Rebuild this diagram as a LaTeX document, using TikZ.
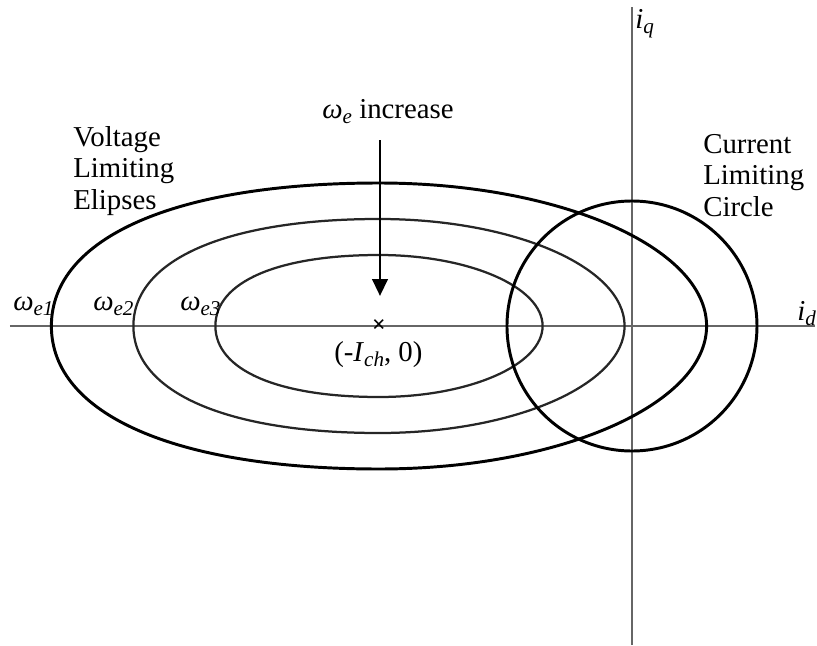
\documentclass[tikz,border=0pt]{standalone}
\usepackage{fontspec}
\setmainfont{Liberation Serif}
\usepackage{tikz}
\usetikzlibrary{arrows.meta, positioning}

% lowered italic index, as in the drawing
\newcommand{\lowsub}[1]{\raisebox{-0.2em}{\fontsize{15}{15}\selectfont\itshape #1}}
% egg-like limiting ellipse: centre x, half width, half height
\newcommand{\limitegg}[4][]{%
  \draw[#1] ({#2-#3},0) .. controls ({#2-#3},{0.62*#4}) and ({#2-0.62*#3},#4) .. (#2,#4)
    .. controls ({#2+0.55*#3},#4) and ({#2+#3},{0.55*#4}) .. ({#2+#3},0)
    .. controls ({#2+#3},{-0.55*#4}) and ({#2+0.55*#3},-#4) .. (#2,-#4)
    .. controls ({#2-0.62*#3},-#4) and ({#2-#3},{-0.62*#4}) .. cycle;}

\begin{document}
\begin{tikzpicture}[
          axis/.style={draw=black!60, line width=0.9pt},
          thick ellipse/.style={draw=black, line width=2.1pt},
          thin ellipse/.style={draw=black!85, line width=1.6pt},
          limit/.style={draw=black, line width=2.1pt},
          label/.style={font=\fontsize{20.5}{22.4}\selectfont, inner sep=0pt, align=left},
          arr/.style={-{Triangle[length=0.42cm, width=0.38cm]}, line width=2.1pt}
        ]
        \useasboundingbox (-15.8,-7.975) rectangle (4.625,8.15);

        % axes
        \coordinate (qtop) at (0,7.975);
        \coordinate (qbot) at (0,-7.975);
        \coordinate (dleft) at (-15.55,0);
        \coordinate (dright) at (4.575,0);
        \draw[axis] (qbot) -- (qtop);
        \draw[axis] (dleft) -- (dright);
        \node[label, anchor=base west] (iq) at (0.075,7.45) {\textit{i}\lowsub{q}};
        \node[label, anchor=base west] (id) at (4.125,0.15) {\textit{i}\lowsub{d}};

        % voltage limiting ellipses
        \limitegg[thick ellipse]{-6.325}{8.19}{3.575}
        \limitegg[thin ellipse]{-6.325}{6.14}{2.675}
        \limitegg[thin ellipse]{-6.325}{4.09}{1.775}

        % current limiting circle
        \draw[limit] (0,0) circle (3.125);

        \node[label, anchor=base west] (we1) at (-15.475,0.4) {\textit{ω}\lowsub{e1}};
        \node[label, anchor=base west] (we2) at (-13.475,0.4) {\textit{ω}\lowsub{e2}};
        \node[label, anchor=base west] (we3) at (-11.3,0.4) {\textit{ω}\lowsub{e3}};

        \node[font=\fontsize{17}{17}\selectfont\bfseries, inner sep=0pt] (centre) at (-6.325,0) {×};
        \node[label, anchor=base] (ich) at (-6.34,-0.875) {(-\textit{I}\lowsub{ch}, 0)};

        \node[label, anchor=base west] (vle) at (-13.975,2.925) {Voltage\\Limiting\\Elipses};
        \node[label, anchor=base west] (clc) at (1.775,2.75) {Current\\Limiting\\Circle};

        \node[label, anchor=base] (incr) at (-6.1,5.2) {\textit{ω}\lowsub{e} increase};
        \coordinate (arrtop) at (-6.3,4.65);
        \coordinate (arrtip) at (-6.3,0.75);
        \draw[arr] (arrtop) -- (arrtip);
      \end{tikzpicture}
\end{document}
